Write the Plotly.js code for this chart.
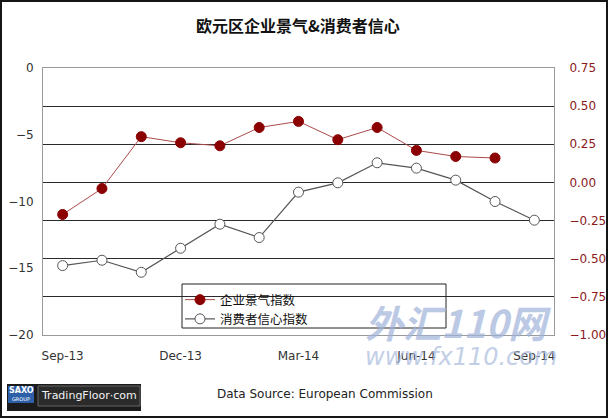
<!DOCTYPE html>
<html>
<head>
<meta charset="utf-8">
<script src="https://cdn.plot.ly/plotly-3.0.1.min.js"></script>
<style>
  html, body { margin: 0; padding: 0; background: #fff; }
  #chart { width: 608px; height: 418px; }
</style>
</head>
<body>
<div id="chart"></div>
<script>
// months on the x axis
const months = ['Sep-13', 'Oct-13', 'Nov-13', 'Dec-13', 'Jan-14', 'Feb-14', 'Mar-14',
                'Apr-14', 'May-14', 'Jun-14', 'Jul-14', 'Aug-14', 'Sep-14'];
const monthTicks = ['Sep-13', 'Dec-13', 'Mar-14', 'Jun-14', 'Sep-14'];

// business climate indicator (right axis), no Sep-14 reading yet
const businessClimate = [-0.21, -0.04, 0.30, 0.26, 0.24, 0.36, 0.40,
                         0.28, 0.36, 0.21, 0.17, 0.16, null];
// consumer confidence (left axis)
const consumerConfidence = [-14.8, -14.4, -15.3, -13.5, -11.7, -12.7, -9.3,
                            -8.6, -7.1, -7.5, -8.4, -10.0, -11.4];

const L = 43, R = 54, T = 68, B = 83;
const W = 608, H = 418;
const pw = W - L - R, ph = H - T - B;
const px = x => (x - L) / pw;          // pixel -> paper x
const py = y => (H - B - y) / ph;      // pixel -> paper y

const business = {
  x: months,
  y: businessClimate,
  yaxis: 'y2',
  name: '企业景气指数',
  type: 'scatter',
  mode: 'lines+markers',
  line: { color: '#a94a4a', width: 1 },
  marker: { size: 10, color: '#8b0000', line: { color: '#8b0000', width: 1 } },
  connectgaps: false
};

const consumer = {
  x: months,
  y: consumerConfidence,
  yaxis: 'y',
  name: '消费者信心指数',
  type: 'scatter',
  mode: 'lines+markers',
  line: { color: '#555555', width: 1.2 },
  marker: { size: 10, color: '#ffffff', line: { color: '#555555', width: 1 } }
};

const tickFont = { family: 'DejaVu Sans, Verdana, sans-serif', size: 12, color: '#333333' };

const note = (x, y, text, font, extra) => Object.assign({
  xref: 'paper', yref: 'paper', x: px(x), y: py(y),
  xanchor: 'center', yanchor: 'middle', showarrow: false, text: text, font: font
}, extra || {});

const layout = {
  width: W,
  height: H,
  margin: { l: L, r: R, t: T, b: B, pad: 0 },
  paper_bgcolor: '#ffffff',
  plot_bgcolor: '#ffffff',
  showlegend: true,
  title: {
    text: '<b>欧元区企业景气&消费者信心</b>',
    font: { family: 'Noto Sans CJK SC, sans-serif', size: 16, color: '#111111' },
    x: 0.49,
    xanchor: 'center',
    y: 1 - 26 / H,
    yanchor: 'middle'
  },
  xaxis: {
    type: 'category',
    range: [-0.5, 12.5],
    tickmode: 'array',
    tickvals: monthTicks,
    ticktext: monthTicks,
    tickfont: tickFont,
    ticks: '',
    ticklabelstandoff: 10,
    showgrid: false,
    showline: true,
    linecolor: '#9a9a9a',
    linewidth: 1,
    mirror: true,
    zeroline: false
  },
  yaxis: {
    range: [-20, 0],
    dtick: 5,
    tickfont: tickFont,
    ticks: '',
    ticklabelstandoff: 6,
    showgrid: false,
    zeroline: false,
    showline: true,
    linecolor: '#9a9a9a'
  },
  yaxis2: {
    overlaying: 'y',
    side: 'right',
    range: [-1, 0.75],
    dtick: 0.25,
    tickformat: '.2f',
    tickfont: { family: 'DejaVu Sans, Verdana, sans-serif', size: 12, color: '#8b1a1a' },
    ticks: '',
    ticklabelstandoff: 12,
    showgrid: true,
    gridcolor: '#2a2a2a',
    gridwidth: 1,
    zeroline: true,
    zerolinecolor: '#2a2a2a',
    zerolinewidth: 1,
    showline: true,
    linecolor: '#9a9a9a'
  },
  legend: {
    x: px(180),
    y: py(285),
    xanchor: 'left',
    yanchor: 'top',
    bgcolor: 'rgba(0,0,0,0)',
    borderwidth: 0,
    font: { family: 'Noto Sans CJK SC, sans-serif', size: 12.5, color: '#111111' },
    tracegroupgap: 0,
    itemwidth: 30
  },
  shapes: [
    // legend frame
    { type: 'rect', xref: 'paper', yref: 'paper',
      x0: px(182), x1: px(446), y0: py(328), y1: py(284),
      line: { color: '#222222', width: 1 }, fillcolor: 'rgba(0,0,0,0)', layer: 'above' },
    // outer frame
    { type: 'rect', xref: 'paper', yref: 'paper',
      x0: px(1), x1: px(607), y0: py(417), y1: py(1),
      line: { color: '#151515', width: 2 }, fillcolor: 'rgba(0,0,0,0)' },
    // logo pieces
    { type: 'rect', xref: 'paper', yref: 'paper', layer: 'below',
      x0: px(7), x1: px(141), y0: py(411), y1: py(384),
      line: { width: 0 }, fillcolor: '#1b1b1b' },
    { type: 'rect', xref: 'paper', yref: 'paper', layer: 'below',
      x0: px(8), x1: px(34), y0: py(403), y1: py(386),
      line: { width: 0 }, fillcolor: '#2d5fa8' },
    { type: 'rect', xref: 'paper', yref: 'paper', layer: 'below',
      x0: px(38), x1: px(140), y0: py(406), y1: py(386),
      line: { color: '#666666', width: 1 }, fillcolor: '#2b2b2b' }
  ],
  annotations: [
    note(21, 390, '<b>SAXO</b>', { family: 'DejaVu Sans, sans-serif', size: 8, color: '#ffffff' }),
    note(21, 399, 'GROUP', { family: 'DejaVu Sans, sans-serif', size: 5, color: '#ffffff' }),
    note(89, 395, 'TradingFloor·com', { family: 'DejaVu Sans, sans-serif', size: 11, color: '#f2f2f2' }),
    note(325, 394, 'Data Source: European Commission',
         { family: 'DejaVu Sans, Verdana, sans-serif', size: 12, color: '#222222' }),
    // watermark
    note(458, 321, '<b><i>外汇110网</i></b>',
         { family: 'Noto Sans CJK SC, sans-serif', size: 38, color: '#9fb3d9' }, { opacity: 0.7 }),
    note(461, 357, '<i>www.fx110.com</i>',
         { family: 'DejaVu Sans, sans-serif', size: 24, color: '#a9bbdd' }, { opacity: 0.7 })
  ]
};

Plotly.newPlot('chart', [business, consumer], layout, { staticPlot: true, displayModeBar: false });
</script>
</body>
</html>
